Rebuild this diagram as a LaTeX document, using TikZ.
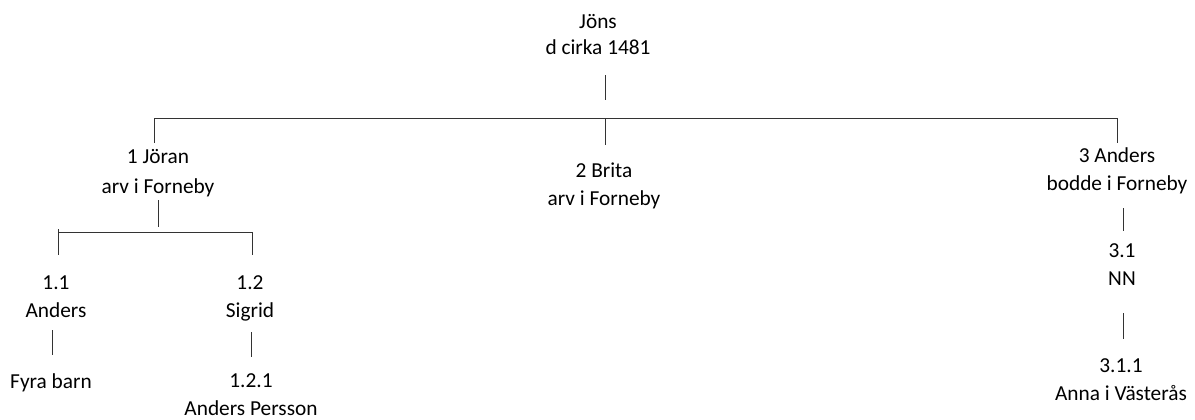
\documentclass[tikz,border=0pt]{standalone}
\usepackage{fontspec}
\setmainfont{Carlito}
\begin{document}
\begin{tikzpicture}[x=0.75pt,y=-0.75pt,
    person/.style={align=center, inner sep=0pt, anchor=base, font=\fontsize{16}{21}\selectfont},
    link/.style={line width=0.75pt, draw=black!80}]
      \useasboundingbox (0,0) rectangle (1195,419);

      % people, placed at the baseline of the last line
      \node[person, font=\fontsize{16}{19.5}\selectfont] (jons) at (598,54) {Jöns\\d cirka 1481};
      \node[person, font=\fontsize{16}{22.5}\selectfont] (joran) at (158,193) {1 Jöran\\arv i Forneby};
      \node[person] (brita)  at (604,205)  {2 Brita\\arv i Forneby};
      \node[person] (anders) at (1117,190) {3 Anders\\bodde i Forneby};
      \node[person] (a11)    at (56,317)   {1.1\\Anders};
      \node[person] (a12)    at (250,317)  {1.2\\Sigrid};
      \node[person] (fyra)   at (51,388)   {Fyra barn};
      \node[person] (a121)   at (251,415)  {1.2.1\\Anders Persson};
      \node[person] (a31)    at (1122,285) {3.1\\NN};
      \node[person] (a311)   at (1121,400) {3.1.1\\Anna i Västerås};

      \coordinate (barL) at (154,118);
      \coordinate (barR) at (1117,118);
      \coordinate (subL) at (58,232);
      \coordinate (subR) at (252,232);

      % first generation
      \draw[link] (jons.base) ++(7,21) -- ++(0,25);
      \draw[link] (barL) -- (barR);
      \draw[link] (barL) -- ++(0,25);
      \draw[link] (barL -| jons.base) ++(7,0) -- ++(0,27);
      \draw[link] (barR) -- ++(0,25);

      % children of Jöran
      \draw[link] (joran.base) ++(0,7) -- ++(0,27);
      \draw[link] (subL) ++(0,-3) -- ++(0,26);
      \draw[link] (subL) -- (subR) -- ++(0,23);
      \draw[link] (a11.base) ++(-4,13) -- ++(0,25);
      \draw[link] (a12.base) ++(1,15) -- ++(0,25);

      % line of Anders
      \draw[link] (anders.base) ++(6,18) -- ++(0,23);
      \draw[link] (a31.base) ++(1,28) -- ++(0,26);
    \end{tikzpicture}
\end{document}
